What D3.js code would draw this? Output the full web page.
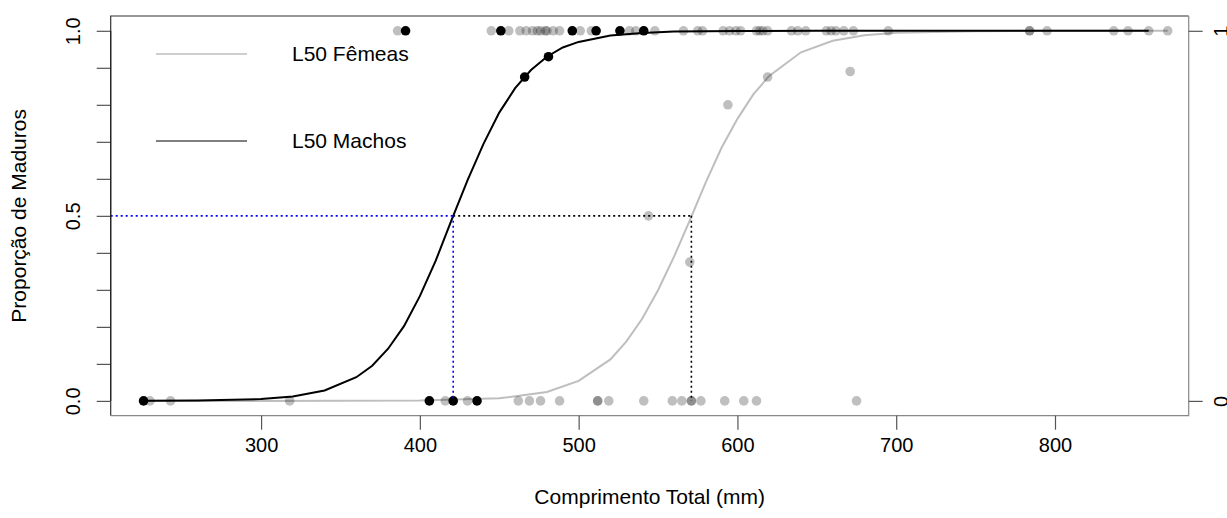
<!DOCTYPE html>
<html>
<head>
<meta charset="utf-8">
<script src="https://cdn.jsdelivr.net/npm/d3@7"></script>
<style>
  body { margin: 0; background: #fff; }
  svg { display: block; font-family: "Liberation Sans", Arial, sans-serif; }
</style>
</head>
<body>
<svg id="chart" width="1227" height="518"></svg>
<script>
// maturity by total length (mm) — 1 = mature, 0 = immature
const femaleImmatureLen = [230, 243, 318, 416, 430, 462, 469, 476, 488, 512, 512, 519, 541, 559, 565, 571, 571, 577, 592, 604, 612, 675];
const femaleMatureLen = [386, 445, 456, 463, 467, 471, 474, 476, 479, 480, 484, 488, 501, 508, 532, 536, 548,
  566, 575, 578, 591, 595, 599, 602, 612, 614, 616, 619, 634, 638, 643, 656, 659, 662, 667, 673, 695,
  784, 784, 795, 837, 846, 859, 871];
const femaleClassLen = [544, 570, 594, 619, 671];
const femaleClassP = [0.5, 0.375, 0.8, 0.875, 0.89];

const maleImmatureLen = [226, 406, 421, 436];
const maleMatureLen = [391, 451, 496, 511, 526, 541];
const maleClassLen = [466, 481];
const maleClassP = [0.875, 0.93];

// fitted logistic curves
const maleCurveLen = [226, 260, 300, 320, 340, 360, 370, 380, 390, 400, 410, 420, 430, 440, 450, 460, 470, 480, 490, 500, 520, 540, 560, 600, 650, 700, 859];
const maleCurveP = [0.0002, 0.0009, 0.005, 0.012, 0.028, 0.064, 0.095, 0.141, 0.202, 0.283, 0.379, 0.489, 0.596, 0.694, 0.779, 0.845, 0.894, 0.930, 0.955, 0.970, 0.987, 0.994, 0.998, 0.9996, 1, 1, 1];
const femaleCurveLen = [226, 300, 400, 450, 480, 500, 520, 530, 540, 550, 560, 570, 580, 590, 600, 610, 620, 640, 660, 680, 700, 750, 800, 871];
const femaleCurveP = [0, 0, 0.001, 0.007, 0.024, 0.054, 0.112, 0.160, 0.222, 0.299, 0.389, 0.488, 0.590, 0.684, 0.762, 0.828, 0.878, 0.942, 0.973, 0.988, 0.995, 0.999, 1, 1];

const l50Male = 421;
const l50Female = 571;

const xTicks = [300, 400, 500, 600, 700, 800];
const yTicks = [0, 0.1, 0.2, 0.3, 0.4, 0.5, 0.6, 0.7, 0.8, 0.9, 1];
const yLabels = [0, 0.5, 1];
const legendLabels = ["L50 Fêmeas", "L50 Machos"];

const svg = d3.select("#chart");
const box = { left: 110.7, right: 1188.7, top: 16, bottom: 415.7 };
const tickFont = 20;
const titleFont = 21;

const x = d3.scaleLinear().domain([205.3, 884.2]).range([box.left, box.right]);
const y = d3.scaleLinear().domain([-0.04, 1.04]).range([box.bottom, box.top]);

const line = d3.line().x(d => x(d[0])).y(d => y(d[1]));

// curves
svg.append("path")
  .datum(d3.zip(femaleCurveLen, femaleCurveP))
  .attr("d", line)
  .attr("fill", "none")
  .attr("stroke", "#bebebe")
  .attr("stroke-width", 2);

svg.append("path")
  .datum(d3.zip(maleCurveLen, maleCurveP))
  .attr("d", line)
  .attr("fill", "none")
  .attr("stroke", "#000")
  .attr("stroke-width", 2);

// points
const femalePts = femaleImmatureLen.map(v => [v, 0])
  .concat(femaleMatureLen.map(v => [v, 1]))
  .concat(d3.zip(femaleClassLen, femaleClassP));
const malePts = maleImmatureLen.map(v => [v, 0])
  .concat(maleMatureLen.map(v => [v, 1]))
  .concat(d3.zip(maleClassLen, maleClassP));

svg.selectAll(".fem")
  .data(femalePts)
  .enter()
  .append("circle")
    .attr("class", "fem")
    .attr("cx", d => x(d[0]))
    .attr("cy", d => y(d[1]))
    .attr("r", 4.8)
    .attr("fill", "#000")
    .attr("fill-opacity", 0.25);

svg.selectAll(".male")
  .data(malePts)
  .enter()
  .append("circle")
    .attr("class", "male")
    .attr("cx", d => x(d[0]))
    .attr("cy", d => y(d[1]))
    .attr("r", 4.8)
    .attr("fill", "#000");

// L50 guide lines
const dotted = (x1, y1, x2, y2, color) => svg.append("line")
  .attr("x1", x1).attr("y1", y1).attr("x2", x2).attr("y2", y2)
  .attr("stroke", color)
  .attr("stroke-width", 1.6)
  .attr("stroke-dasharray", "2,3");

dotted(box.left, y(0.5), x(l50Male), y(0.5), "#0000ff");
dotted(x(l50Male), y(0.5), x(l50Male), y(0), "#0000ff");
dotted(x(l50Male), y(0.5), x(l50Female), y(0.5), "#000");
dotted(x(l50Female), y(0.5), x(l50Female), y(0), "#000");

// frame
svg.append("path")
  .attr("d", `M${box.left},${box.bottom}V${box.top}H${box.right}`)
  .attr("fill", "none").attr("stroke", "#333").attr("stroke-width", 1.2);
svg.append("path")
  .attr("d", `M${box.left},${box.bottom}H${box.right}V${box.top}`)
  .attr("fill", "none").attr("stroke", "#888").attr("stroke-width", 1.2);

// axes
const styleAxis = g => {
  g.select(".domain").remove();
  g.selectAll(".tick line").attr("stroke", "#555").attr("stroke-width", 1.2);
  g.selectAll(".tick text").attr("fill", "#000").style("font-size", tickFont + "px");
};

svg.append("g")
  .attr("transform", `translate(0,${box.bottom})`)
  .call(d3.axisBottom(x).tickValues(xTicks).tickSize(14).tickFormat(d3.format("d")))
  .call(styleAxis)
  .call(g => g.selectAll(".tick text").attr("y", 29.5).attr("dy", "0.35em"));

svg.append("g")
  .attr("transform", `translate(${box.left},0)`)
  .call(d3.axisLeft(y).tickValues(yTicks).tickSize(14)
    .tickFormat(d => yLabels.some(v => Math.abs(v - d) < 1e-9) ? d3.format(".1f")(d) : ""))
  .call(styleAxis)
  .call(g => g.selectAll(".tick text")
    .attr("transform", "rotate(-90)")
    .attr("x", 0).attr("y", -38).attr("dy", "0.35em")
    .attr("text-anchor", "middle"));

svg.append("g")
  .attr("transform", `translate(${box.right},0)`)
  .call(d3.axisRight(y).tickValues([0, 1]).tickSize(14).tickFormat(d3.format("d")))
  .call(styleAxis)
  .call(g => g.selectAll(".tick text")
    .attr("transform", "rotate(-90)")
    .attr("x", 0).attr("y", 32).attr("dy", "0.35em")
    .attr("text-anchor", "middle"));

svg.append("line")
  .attr("x1", box.left).attr("x2", box.left)
  .attr("y1", y(0)).attr("y2", y(1))
  .attr("stroke", "#222").attr("stroke-width", 1.2);

// axis titles
svg.append("text")
  .attr("x", (box.left + box.right) / 2)
  .attr("y", 497)
  .attr("dy", "0.35em")
  .attr("text-anchor", "middle")
  .style("font-size", titleFont + "px")
  .text("Comprimento Total (mm)");

svg.append("text")
  .attr("transform", `translate(19,${(box.top + box.bottom) / 2}) rotate(-90)`)
  .attr("dy", "0.35em")
  .attr("text-anchor", "middle")
  .style("font-size", titleFont + "px")
  .text("Proporção de Maduros");

// legend
const legend = svg.append("g");
const legendColors = ["#bebebe", "#000"];
const legendY = [54, 141];
legendLabels.forEach((label, i) => {
  legend.append("line")
    .attr("x1", 156).attr("x2", 247)
    .attr("y1", legendY[i]).attr("y2", legendY[i])
    .attr("stroke", legendColors[i])
    .attr("stroke-width", i === 0 ? 1.6 : 1);
  legend.append("text")
    .attr("x", 292)
    .attr("y", legendY[i])
    .attr("dy", "0.35em")
    .style("font-size", titleFont + "px")
    .text(label);
});
</script>
</body>
</html>
